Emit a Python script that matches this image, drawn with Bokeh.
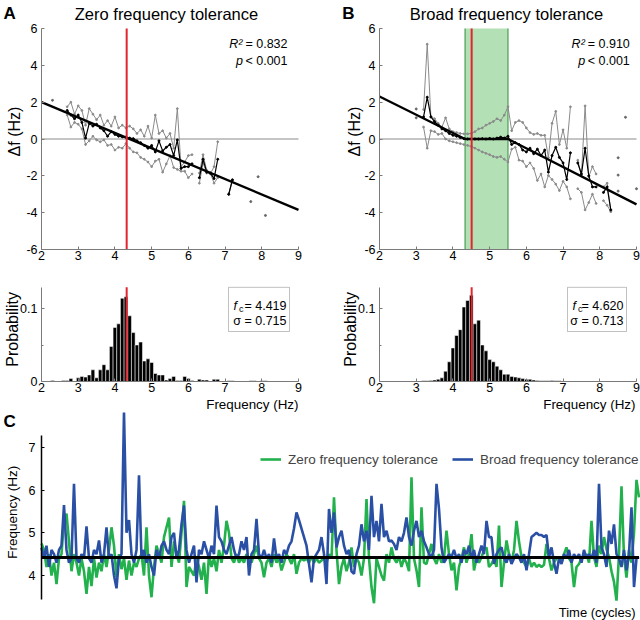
import numpy as np
from bokeh.plotting import figure
from bokeh.models import Range1d, Label, BoxAnnotation, FixedTicker, Legend, LegendItem
from bokeh.layouts import column, row
from bokeh.embed import file_html
from bokeh.resources import INLINE

nan = np.nan
FONT = "Liberation Sans"

# ---------------- data ----------------
# Panel A (zero frequency tolerance): binned delta-f vs frequency
a_x = [2.7, 2.8, 2.9, 3.0, 3.1, 3.2, 3.3, 3.4, 3.5, 3.6, 3.7, 3.8, 3.9, 4.0, 4.1, 4.2, 4.3, 4.4, 4.5, 4.6,
       4.7, 4.8, 4.9, 5.0, 5.1, 5.2, 5.3, 5.4, 5.5, 5.6, 5.7, 5.8, 5.9, 6.0, 6.1, 6.2, 6.3, 6.4, 6.5, 6.6,
       6.7, 6.8, 6.9, 7.0, 7.1, 7.2]
a_upper = [1.75, 2.0, 1.35, 1.8, 1.55, 0.75, 1.65, 1.35, 1.05, 1.3, 0.75, 1.0, 0.7, 1.2, 0.6, 0.75, 0.6, 0.7,
           0.55, 0.3, 0.5, 0.15, 0.7, 0.05, 1.3, 0.3, 0.45, 0.05, 0.3, -0.5, 1.65, -1.5, -1.25, -0.9, -0.85,
           nan, -1.85, -0.85, -1.7, -1.9, -1.5, -0.15, nan, nan, -3.0, -2.22]
a_mean = [1.55, 1.3, 1.1, 1.3, 0.9, 0.05, 0.85, 0.7, 0.8, 0.6, 0.45, 0.15, 0.4, 0.25, 0.15, 0.12, 0.1, 0.05,
          0.02, -0.1, -0.2, -0.35, -0.5, -0.35, -0.7, -0.1, -0.65, -0.45, -0.3, -0.9, -0.05, -1.6, -1.5, -1.5,
          -1.35, nan, -2.1, -1.1, -1.8, -1.85, -2.15, -1.1, nan, nan, -3.0, -2.22]
a_lower = [1.3, 0.65, 0.9, 0.8, 0.55, -0.3, -0.1, 0.15, -0.05, -0.15, -0.05, -0.35, -0.3, -0.6, -0.45, -0.5,
           -0.25, -0.5, -0.7, -0.75, -1.0, -1.1, -1.25, -1.5, -1.2, -1.1, -1.8, -1.35, -0.9, -1.55, -1.65,
           -1.75, -1.75, -2.1, -1.9, nan, -2.4, -1.3, -1.85, -1.85, -2.4, -2.1, nan, nan, -3.0, -2.22]
a_single_x = [2.3, 7.7, 7.9, 8.1]
a_single_y = [2.1, -3.4, -2.05, -4.15]
a_fit_x = [2.0, 9.0]
a_fit_y = [2.0, -3.85]
a_fc_line = 4.32
a_r2 = "0.832"
a_fc = "4.419"
a_sigma = "0.715"

# Panel B (broad frequency tolerance)
b_x = [3.2, 3.3, 3.4, 3.5, 3.6, 3.7, 3.8, 3.9, 4.0, 4.1, 4.2, 4.3, 4.4, 4.5, 4.6, 4.7, 4.8, 4.9, 5.0, 5.1,
       5.2, 5.3, 5.4, 5.5, 5.6, 5.7, 5.8, 5.9, 6.0, 6.1, 6.2, 6.3, 6.4, 6.5, 6.6, 6.7, 6.8, 6.9, 7.0, 7.1,
       7.2, 7.3, 7.4, 7.5, 7.6, 7.7, 7.8, 7.9, 8.0, 8.1, 8.2, 8.3]
b_upper = [1.6, 5.15, 1.2, 1.1, 0.85, 0.65, 1.15, 0.55, 0.4, 0.35, 0.3, 0.28, 0.28, 0.3, 0.4, 0.55, 0.6, 0.75,
           0.85, 0.95, 1.1, 1.0, 1.3, 1.75, 0.45, 0.9, 1.0, 0.9, 0.6, 0.35, 0.25, 0.3, 0.2, 0.2, -1.0, 0.85,
           1.5, -0.3, 0.5, -0.5, 1.75, nan, -1.15, -2.0, 1.8, -2.05, -1.5, -1.9, nan, -2.6, -2.4, -3.9]
b_mean = [1.2, 2.27, 1.2, 0.95, 0.75, 0.55, 0.45, 0.3, 0.2, 0.15, 0.08, 0.02, 0.0, 0.0, 0.0, 0.0, 0.02, 0.0,
          0.03, 0.0, 0.05, 0.1, 0.05, 0.15, -0.3, -0.2, -0.3, -0.6, -0.7, -0.5, -0.8, -0.55, -0.9, -0.6, -1.8,
          -0.9, -0.45, -1.0, -1.3, -2.2, -0.75, nan, -1.3, -1.9, -0.5, -2.0, -2.6, -2.6, nan, -2.9, -2.6, -3.85]
b_lower = [0.65, -0.5, 0.45, 0.4, 0.25, 0.3, 0.0, -0.1, -0.15, -0.2, -0.25, -0.3, -0.35, -0.4, -0.5, -0.6,
           -0.7, -0.78, -0.85, -0.95, -1.0, -0.95, -1.1, -1.25, -0.55, -0.45, -1.15, -1.2, -1.5, -1.3, -1.6,
           -2.25, -1.9, -2.6, -1.98, -2.2, -2.45, -2.8, -2.3, -2.6, -3.25, nan, -2.7, -2.9, -3.85, -3.45, -3.0,
           -3.5, nan, -3.35, -3.6, -3.95]
b_single_x = [3.0, 3.0, 8.5, 8.5, 8.5, 8.7, 9.0]
b_single_y = [1.63, 1.15, -1.02, -1.96, -2.83, 1.18, -2.7]
b_fit_x = [2.0, 4.33, 5.5, 9.0]
b_fit_y = [2.31, 0.0, 0.0, -3.55]
b_band = (4.33, 5.5)
b_fc_line = 4.51
b_r2 = "0.910"
b_fc = "4.620"
b_sigma = "0.713"

# Histograms (bin width 0.1)
hist_width = 0.1
hist_a_start = 2.3
hist_a = [0.0015, 0, 0, 0.0015, 0.0015, 0.004, 0, 0.005, 0.007, 0.006,
          0.009, 0.016, 0.005, 0.016, 0.023, 0.016, 0.048, 0.074, 0.079, 0.114,
          0.116, 0.090, 0.067, 0.050, 0.054, 0.028, 0.031, 0.026, 0.011, 0.009,
          0.009, 0.002, 0.004, 0.007, 0.0015, 0.0015, 0.007, 0.004, 0.0015, 0,
          0.003, 0.002, 0.002, 0, 0.003, 0.003, 0, 0, 0.001, 0.001,
          0, 0, 0, 0, 0.001, 0.001, 0, 0.001, 0.001]
hist_b_start = 3.2
hist_b = [0.001, 0.001, 0.0015, 0.002, 0.003, 0.005, 0.014, 0.027, 0.046, 0.063,
          0.071, 0.102, 0.111, 0.118, 0.079, 0.084, 0.050, 0.042, 0.030, 0.027,
          0.021, 0.016, 0.010, 0.010, 0.007, 0.006, 0.005, 0.004, 0.003, 0.003,
          0.002, 0.0015, 0.001, 0.001, 0.001, 0.0015, 0.001, 0.001, 0.0008, 0.0008,
          0.0006, 0.0005, 0.0005, 0.0005, 0.0004, 0.0004, 0.0004, 0.0004, 0.0004, 0.0003,
          0.0003, 0.0003, 0.0003, 0.0003, 0.0003, 0.0002, 0.0002, 0.0002]

# Panel C: frequency over time
target_freq = 4.42
zero_tol = [4.75, 4.6, 4.2, 4.5, 4.0, 4.3, 3.8, 4.4, 4.5, 5.3,
            5.45, 4.8, 4.1, 4.5, 4.3, 4.0, 4.4, 4.1, 3.57, 4.2,
            3.75, 4.4, 3.95, 4.3, 4.1, 4.5, 4.2, 4.6, 5.13, 4.7,
            3.96, 4.5, 4.15, 4.4, 3.9, 4.35, 4.0, 4.3, 4.2, 4.4,
            4.5, 4.0, 5.13, 4.0, 3.49, 4.2, 4.7, 4.5, 4.3, 4.9,
            5.13, 5.36, 4.2, 4.8, 4.5, 4.3, 5.0, 5.75, 3.73, 4.2,
            4.1, 4.0, 4.4, 4.2, 3.9, 4.3, 3.57, 4.5, 4.2, 4.4,
            4.1, 4.6, 4.3, 4.7, 5.28, 5.0, 4.4, 4.3, 4.5, 4.3,
            4.4, 4.3, 4.5, 4.4, 4.3, 4.5, 4.7, 4.4, 4.3, 3.96,
            4.3, 4.4, 4.2, 4.5, 4.3, 4.4, 4.12, 4.3, 4.5, 4.4,
            4.27, 4.5, 4.04, 4.3, 4.4, 4.35, 4.4, 4.3, 4.45, 4.3,
            4.4, 4.3, 4.35, 4.4, 4.3, 4.5, 4.4, 5.83, 4.59, 3.8,
            4.2, 4.4, 4.1, 4.3, 4.66, 4.2, 4.4, 4.3, 4.0, 4.4,
            5.79, 4.4, 3.73, 3.35, 4.4, 4.2, 4.0, 3.88, 4.5, 4.3,
            4.66, 4.4, 4.3, 4.45, 4.2, 4.4, 4.3, 4.1, 6.3, 4.4,
            4.12, 3.73, 5.6, 4.3, 4.27, 4.5, 4.74, 4.4, 4.27, 4.5,
            4.3, 4.4, 5.05, 4.5, 4.12, 4.3, 3.65, 4.2, 4.4, 4.66,
            4.3, 4.5, 4.97, 4.12, 4.4, 4.3, 4.43, 4.6, 4.66, 4.2,
            4.27, 4.4, 4.2, 5.17, 3.73, 4.3, 4.82, 4.5, 4.3, 4.6,
            5.28, 4.8, 4.43, 4.3, 4.2, 4.4, 4.2, 4.3, 4.2, 4.25,
            4.2, 4.25, 4.74, 4.4, 4.12, 4.3, 4.4, 4.43, 4.3, 4.5,
            4.66, 4.4, 4.3, 3.73, 4.2, 4.27, 4.4, 4.43, 4.5, 4.3,
            5.28, 4.43, 4.2, 4.7, 4.5, 4.9, 4.62, 4.43, 4.1, 3.85,
            3.41, 4.5, 6.09, 4.43, 3.95, 4.6, 4.3, 5.0, 6.24, 5.83]
broad_tol = [4.65, 4.4, 4.7, 4.2, 4.6, 4.5, 4.3, 4.6, 4.7, 5.65,
             4.6, 4.3, 4.4, 6.15, 4.4, 4.3, 4.5, 4.4, 5.15, 4.4,
             4.3, 4.6, 4.5, 4.82, 4.3, 4.5, 5.13, 4.4, 4.5, 4.0,
             3.7, 4.4, 4.5, 7.83, 5.0, 5.3, 4.5, 4.3, 4.6, 6.35,
             4.4, 4.6, 4.3, 4.5, 4.2, 4.0, 4.6, 4.4, 4.7, 4.8,
             4.6, 4.5, 4.9, 5.0, 4.4, 4.6, 5.2, 5.64, 4.6, 4.3,
             4.5, 4.7, 3.84, 4.6, 4.5, 4.8, 4.6, 4.4, 4.7, 4.5,
             5.64, 4.9, 4.8, 4.6, 4.5, 4.7, 4.9, 4.6, 4.4, 4.5,
             4.8, 4.6, 4.9, 4.0, 4.5, 4.6, 5.33, 4.5, 4.4, 4.6,
             4.4, 4.5, 4.3, 4.87, 4.4, 4.5, 4.3, 4.6, 4.5, 4.7,
             4.8, 5.1, 5.48, 5.3, 5.1, 4.9, 4.7, 4.27, 3.84, 4.4,
             4.5, 4.6, 4.9, 4.5, 3.8, 5.56, 5.0, 5.48, 4.66, 4.9,
             5.05, 4.7, 4.5, 4.6, 4.1, 4.04, 4.5, 4.7, 5.2, 4.8,
             5.05, 4.6, 5.87, 4.9, 5.28, 4.8, 5.68, 4.9, 5.05, 4.8,
             4.82, 4.74, 4.6, 4.9, 4.8, 5.0, 5.36, 4.9, 4.7, 5.05,
             5.28, 4.9, 5.05, 4.8, 4.66, 4.5, 4.43, 4.6, 6.15, 5.56,
             4.66, 4.3, 4.4, 4.5, 4.43, 4.6, 4.4, 4.5, 4.3, 4.6,
             4.5, 4.7, 4.4, 4.6, 4.3, 4.5, 4.7, 4.5, 5.28, 4.9,
             4.9, 4.27, 4.5, 4.6, 4.66, 4.4, 4.3, 4.5, 4.27, 4.4,
             4.5, 4.43, 4.3, 4.5, 4.12, 4.5, 4.9, 4.95, 5.0, 4.95,
             4.95, 4.9, 4.95, 4.43, 4.66, 4.3, 4.04, 4.4, 4.27, 4.5,
             4.4, 4.6, 4.3, 4.5, 4.4, 4.5, 4.3, 4.6, 4.4, 4.5,
             4.4, 4.6, 4.3, 6.15, 4.66, 4.5, 4.2, 5.05, 4.74, 5.2,
             4.5, 4.4, 4.2, 4.6, 4.12, 4.5, 5.6, 3.73, 4.4, 4.43]
time_cycles = list(range(len(zero_tol)))

x_ticks = [2, 3, 4, 5, 6, 7, 8, 9]
df_ticks = [-6, -4, -2, 0, 2, 4, 6]
prob_ticks = [0, 0.1]
freq_ticks = [4, 5, 6, 7]
x_limits = (2, 9)
df_limits = (-6, 6)
prob_limits = (0, 0.129)
freq_limits = (3.4375, 7.281)

# ---------------- styles ----------------
GREY = "#8a8a8a"
AXC = "#7a7a7a"
RED = "#e1262d"
GREEN = "#22b14c"
BLUE = "#2a50a6"
BAND = "#b4e0b6"
BAND_EDGE = "#2f8f3a"


class Geo:
    """Frame covers the whole canvas; maps canvas pixels <-> data via two anchors per axis."""
    def __init__(self, W, H, xa, ya):
        self.W, self.H = W, H
        (self.px0, self.xv0, self.px1, self.xv1) = xa
        (self.py0, self.yv0, self.py1, self.yv1) = ya

    def x(self, px):
        return self.xv0 + (px - self.px0) * (self.xv1 - self.xv0) / (self.px1 - self.px0)

    def y(self, py):
        return self.yv0 + (py - self.py0) * (self.yv1 - self.yv0) / (self.py1 - self.py0)


def mkfig(g):
    p = figure(frame_width=g.W, frame_height=g.H,
               x_range=Range1d(g.x(0), g.x(g.W)), y_range=Range1d(g.y(g.H), g.y(0)),
               min_border_left=0, min_border_top=0, min_border_right=0, min_border_bottom=0,
               output_backend="svg", toolbar_location=None)
    p.outline_line_color = None
    p.grid.visible = False
    p.background_fill_color = "white"
    p.border_fill_color = "white"
    return p


def txt(p, g, px, py, s, size, align="left", baseline="middle", angle=0.0, style="normal"):
    p.add_layout(Label(x=g.x(px), y=g.y(py), text=s, text_font=FONT, text_font_size=f"{size}px",
                       text_align=align, text_baseline=baseline, angle=angle, text_font_style=style,
                       text_color="black"))


def style_axis(ax, ticks, loc, bounds, minor=None, overrides=None, color=AXC, standoff=2, width=1.0):
    ax.fixed_location = loc
    ax.bounds = bounds
    ax.ticker = FixedTicker(ticks=ticks, minor_ticks=minor or [])
    ax.axis_line_color = color
    ax.axis_line_width = width
    ax.major_tick_line_color = color
    ax.major_tick_in = 3
    ax.major_tick_out = 0
    ax.minor_tick_line_color = color if minor else None
    ax.minor_tick_in = 2
    ax.minor_tick_out = 0
    ax.major_label_text_font = FONT
    ax.major_label_text_font_size = "12.5px"
    ax.major_label_text_color = "black"
    ax.major_label_standoff = standoff
    if overrides:
        ax.major_label_overrides = overrides


df_over = {-6: "-6", -4: "-4", -2: "-2", 0: "0", 2: "2", 4: "4", 6: "6"}


def top_panel(xpx0, xs, up, mean, lo, sx, sy, fitx, fity, fcx, band, letter, title, r2,
              lpx, tpx, ypx, rpx):
    g = Geo(320, 265, (xpx0, 2, xpx0 + 257, 9), (28, 6, 249, -6))
    p = mkfig(g)
    style_axis(p.xaxis[0], x_ticks, df_limits[0], x_limits, standoff=1)
    style_axis(p.yaxis[0], df_ticks, x_limits[0], df_limits, overrides=df_over, standoff=4)
    if band is not None:
        p.add_layout(BoxAnnotation(left=band[0], right=band[1], top=df_limits[1], bottom=df_limits[0],
                                   fill_color=BAND, fill_alpha=1.0, line_color=None, level="underlay"))
        p.segment(x0=list(band), y0=[df_limits[0]] * 2, x1=list(band), y1=[df_limits[1]] * 2,
                  line_color=BAND_EDGE, line_width=1)
    p.segment(x0=[x_limits[0]], y0=[0], x1=[x_limits[1]], y1=[0], line_color=GREY, line_width=1)
    xs = np.array(xs, dtype=float)
    for arr in (up, lo):
        arr = np.array(arr, dtype=float)
        p.line(xs, arr, line_color=GREY, line_width=1)
        p.scatter(xs, arr, size=1.8, color=GREY)
    p.scatter(sx, sy, size=2.0, color="#666666")
    m = np.array(mean, dtype=float)
    p.line(xs, m, line_color="black", line_width=1.2)
    p.scatter(xs, m, size=2.0, color="black")
    p.line(fitx, fity, line_color="black", line_width=2.3)
    p.segment(x0=[fcx], y0=[df_limits[0]], x1=[fcx], y1=[df_limits[1]], line_color=RED, line_width=2)
    # texts
    txt(p, g, lpx, 13, letter, 17, style="bold")
    txt(p, g, tpx, 13, title, 16.5, align="center")
    txt(p, g, ypx, 131, "\u0394f (Hz)", 16, align="center", angle=np.pi / 2)
    txt(p, g, rpx, 43, "= " + r2, 12.5, align="right")
    txt(p, g, rpx - 45, 43, "R\u00b2", 12.5, align="right", style="italic")
    txt(p, g, rpx, 60, "< 0.001", 12.5, align="right")
    txt(p, g, rpx - 44.5, 60, "p", 12.5, align="right", style="italic")
    return p


def hist_panel(xpx0, start, heights, fcx, fc, sig, ypx, box_l, box_r, flab_r):
    g = Geo(320, 147, (xpx0, 2, xpx0 + 257, 9), (116, 0, 43, 0.1))
    p = mkfig(g)
    style_axis(p.xaxis[0], x_ticks, prob_limits[0], x_limits, standoff=1)
    style_axis(p.yaxis[0], prob_ticks, x_limits[0], prob_limits, minor=[0.05],
               overrides={0: "0", 0.1: "0.1"}, standoff=4)
    centers = [round(start + hist_width * i, 2) for i in range(len(heights))]
    p.vbar(x=centers, top=heights, width=hist_width, bottom=0, fill_color="black",
           line_color="white", line_width=0.5)
    p.segment(x0=[fcx], y0=[prob_limits[0]], x1=[fcx], y1=[prob_limits[1]], line_color=RED, line_width=2)
    p.add_layout(BoxAnnotation(left=g.x(box_l), right=g.x(box_r), top=prob_limits[1], bottom=g.y(66),
                               fill_color="white", fill_alpha=1.0, line_color="#333333", line_width=1))
    txt(p, g, box_l + 5, 40, "f", 12.5, style="italic")
    txt(p, g, box_l + 10.5, 43.5, "c", 9)
    txt(p, g, box_r - 3, 40, "= " + fc, 12.5, align="right")
    txt(p, g, box_r - 3, 55, "\u03c3 = " + sig, 12.5, align="right")
    txt(p, g, ypx, 63.8, "Probability", 16, align="center", angle=np.pi / 2)
    txt(p, g, flab_r, 139, "Frequency (Hz)", 13.4, align="right")
    return p


pA = top_panel(41, a_x, a_upper, a_mean, a_lower, a_single_x, a_single_y, a_fit_x, a_fit_y,
               a_fc_line, None, "A", "Zero frequency tolerance", a_r2, 3, 166, 14, 287)
pB = top_panel(59, b_x, b_upper, b_mean, b_lower, b_single_x, b_single_y, b_fit_x, b_fit_y,
               b_fc_line, b_band, "B", "Broad frequency tolerance", b_r2, 21.7, 186, 34, 309.3)
hA = hist_panel(41, hist_a_start, hist_a, a_fc_line, a_fc, a_sigma, 12, 228, 289, 298)
hB = hist_panel(59, hist_b_start, hist_b, b_fc_line, b_fc, b_sigma, 30, 247, 306, 315)

# Panel C
gC = Geo(640, 208, (41, time_cycles[0], 638.5, time_cycles[-1]), (163, 4, 35, 7))
pC = mkfig(gC)
pC.xaxis.visible = False
style_axis(pC.yaxis[0], freq_ticks, time_cycles[0], freq_limits, color="black", standoff=6, width=1.5)
rg = pC.line(time_cycles, zero_tol, line_color=GREEN, line_width=2.6)
rb = pC.line(time_cycles, broad_tol, line_color=BLUE, line_width=2.6)
pC.segment(x0=[time_cycles[0]], y0=[target_freq], x1=[time_cycles[-1]], y1=[target_freq],
           line_color="black", line_width=3)
leg = Legend(items=[LegendItem(label="Zero frequency tolerance", renderers=[rg]),
                    LegendItem(label="Broad frequency tolerance", renderers=[rb])],
             orientation="horizontal", location=(260, 153), padding=0, spacing=14,
             glyph_width=21, glyph_height=16, label_height=16, label_standoff=7, margin=0,
             label_text_font=FONT, label_text_font_size="13.5px", border_line_color=None,
             background_fill_alpha=0)
pC.add_layout(leg)
txt(pC, gC, 3, 9, "C", 17, style="bold")
txt(pC, gC, 12, 99.7, "Frequency (Hz)", 13.5, align="center", angle=np.pi / 2)
txt(pC, gC, 635, 200, "Time (cycles)", 13, align="right")

layout = column(row(pA, pB), row(hA, hB), pC)
open("out.html", "w").write(file_html(layout, INLINE))
